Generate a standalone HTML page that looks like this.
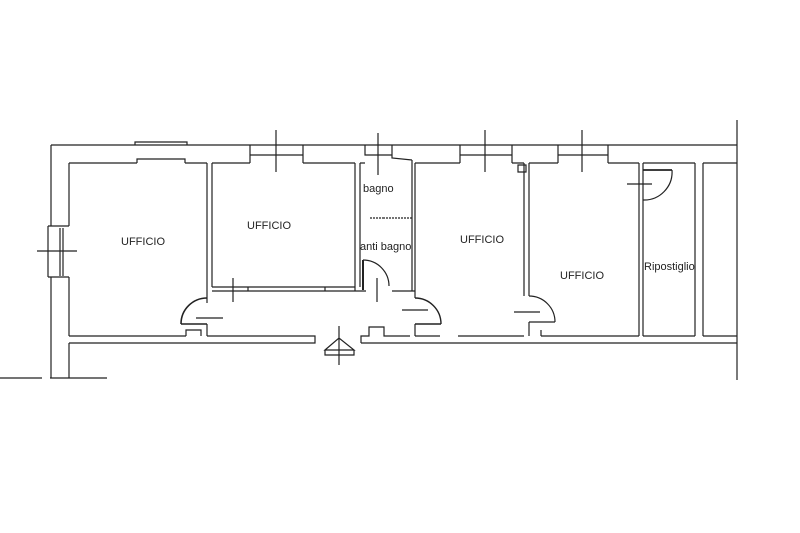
<!DOCTYPE html>
<html><head><style>body{margin:0;background:#fff}svg{display:block}text{font-family:"Liberation Sans",sans-serif;font-size:11px;fill:#222}</style></head><body>
<svg width="800" height="533" viewBox="0 0 800 533" fill="none" stroke="#222" stroke-width="1.2">
<!-- outer top wall -->
<path d="M51 145 H737"/>
<!-- windows top -->
<path d="M135 145 V142 H187 V145 M137 163 V159 H185 V163"/>
<path d="M250 145 V155 H303 V145 M250 155 V163 M303 155 V163 M276 130 V172"/>
<path d="M365 145 V155 H392 M378 133 V175"/>
<path d="M460 145 V155 H512 V145 M460 155 V163 M512 155 V163 M485 130 V172"/>
<path d="M558 145 V155 H608 V145 M558 155 V163 M608 155 V163 M582 130 V172"/>
<!-- left outer wall -->
<path d="M51 145 V226 M51 277 V378 M48 226 V277 M48 226 H69 M48 277 H69 M60 228 V276 M63 228 V276 M37 251 H77"/>
<path d="M69 163 V226 M69 277 V336 M69 343 V378"/>
<path d="M0 378 H42 M50 378 H107"/>
<!-- inner top line -->
<path d="M69 163 H137 M185 163 H207 M212 163 H250 M303 163 H355 M360 163 H365 M415 163 H460 M512 163 H524 M529 163 H558 M608 163 H639 M643 163 H695 M703 163 H737"/>
<!-- room1/room2 partition -->
<path d="M207 163 V291 M212 163 V287 M207 291 V303 M212 287 H355 M212 291 H355 M248 287 V291 M325 287 V291 M233 278 V302"/>
<!-- door room1 -->
<path d="M207 298 A26 26 0 0 0 181 324 M181 324 H207" stroke-width="1.6"/>
<path d="M196 318 H223 M207 324 V336"/>
<!-- bottom walls -->
<path d="M69 336 H186 M207 336 H315 V343 H69 M186 336 V330 H201 V336"/>
<path d="M361 343 V336 H369 V327 H384 V336 H410 M361 343 H737 M415 336 H440 M458 336 H524 M541 336 H639 M643 336 H695 M703 336 H737"/>
<!-- bagno walls -->
<path d="M355 163 V291 M360 163 V287 M355 291 H366 M392 291 H415 M412 160 V291 M415 163 V298 M392 145 V158 L412 160"/>
<path d="M370 218 H383 M383 218 H412" stroke-dasharray="2 1"/>
<path d="M363 260 V290" stroke-width="2"/>
<path d="M363 260 A26 26 0 0 1 389 286 M377 278 V302"/>
<!-- door room3 -->
<path d="M415 298 A26 26 0 0 1 441 324 M415 324 H441" stroke-width="1.4"/>
<path d="M402 310 H428 M415 324 V336"/>
<!-- room3/room4 wall -->
<path d="M524 163 V296 M529 163 V296 M518 165 H526 V172 H518 Z"/>
<path d="M529 296 A26 26 0 0 1 555 322 M529 322 H555 M514 312 H540 M529 322 V336 M541 336 V330"/>
<!-- ripostiglio -->
<path d="M639 163 V336 M643 163 V336 M695 163 V336 M703 163 V336"/>
<path d="M643 170 H672" stroke-width="1.8"/>
<path d="M672 170 A28 28 0 0 1 643 200 M627 184 H652"/>
<path d="M737 120 V380"/>
<!-- entry symbol -->
<path d="M339 326 V365 M325 350 L339 338 L354 350 Z M325 350 V355 H354 V350"/>
<g stroke="none">
<text x="121" y="245">UFFICIO</text>
<text x="247" y="229">UFFICIO</text>
<text x="363" y="192">bagno</text>
<text x="360" y="250">anti bagno</text>
<text x="460" y="243">UFFICIO</text>
<text x="560" y="279">UFFICIO</text>
<text x="644" y="270">Ripostiglio</text>
</g>
</svg>
</body></html>
